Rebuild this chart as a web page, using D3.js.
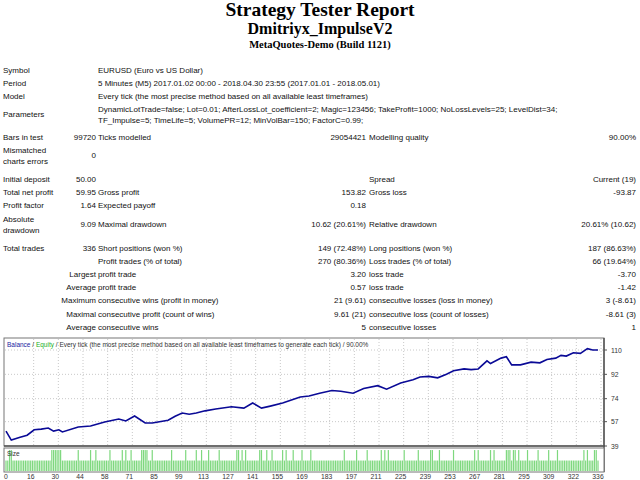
<!DOCTYPE html>
<html>
<head>
<meta charset="utf-8">
<script src="https://cdn.jsdelivr.net/npm/d3@7"></script>
<style>
body { margin: 0; background: #fff; }
text { font-family: "Liberation Sans", Arial, sans-serif; }
</style>
</head>
<body>
<div id="report"></div>
<script>
var width = 640, height = 480;

var titles = ["Strategy Tester Report", "Dmitriyx_ImpulseV2", "MetaQuotes-Demo (Build 1121)"];

// each row: label, value, label, value, label, value
var rows = [
  ["Symbol", "", "EURUSD (Euro vs US Dollar)", "", "", ""],
  ["Period", "", "5 Minutes (M5) 2017.01.02 00:00 - 2018.04.30 23:55 (2017.01.01 - 2018.05.01)", "", "", ""],
  ["Model", "", "Every tick (the most precise method based on all available least timeframes)", "", "", ""],
  ["Parameters", "", "DynamicLotTrade=false; Lot=0.01; AfterLossLot_coefficient=2; Magic=123456; TakeProfit=1000; NoLossLevels=25; LevelDist=34;\nTF_Impulse=5; TimeLife=5; VolumePR=12; MinVolBar=150; FactorC=0.99;", "", "", ""],
  ["Bars in test", "99720", "Ticks modelled", "29054421", "Modelling quality", "90.00%"],
  ["Mismatched\ncharts errors", "0", "", "", "", ""],
  ["Initial deposit", "50.00", "", "", "Spread", "Current (19)"],
  ["Total net profit", "59.95", "Gross profit", "153.82", "Gross loss", "-93.87"],
  ["Profit factor", "1.64", "Expected payoff", "0.18", "", ""],
  ["Absolute\ndrawdown", "9.09", "Maximal drawdown", "10.62 (20.61%)", "Relative drawdown", "20.61% (10.62)"],
  ["Total trades", "336", "Short positions (won %)", "149 (72.48%)", "Long positions (won %)", "187 (86.63%)"],
  ["", "", "Profit trades (% of total)", "270 (80.36%)", "Loss trades (% of total)", "66 (19.64%)"],
  ["", "Largest", "profit trade", "3.20", "loss trade", "-3.70"],
  ["", "Average", "profit trade", "0.57", "loss trade", "-1.42"],
  ["", "Maximum", "consecutive wins (profit in money)", "21 (9.61)", "consecutive losses (loss in money)", "3 (-8.61)"],
  ["", "Maximal", "consecutive profit (count of wins)", "9.61 (21)", "consecutive loss (count of losses)", "-8.61 (3)"],
  ["", "Average", "consecutive wins", "5", "consecutive losses", "1"]
];

// balance curve: [trade number, balance]
var balance = [
  [0, 50], [3, 43.4], [8, 45.5], [12, 47], [16, 51], [20, 51.5], [24, 52.3], [27, 50], [30, 51], [32, 49.4],
  [41, 53], [48, 53.8], [56, 56.8], [64, 59], [68, 57.5], [73, 61.2], [79, 56], [83, 56], [92, 58],
  [96, 61], [100, 63.4], [104, 62.5], [108, 63.4], [113, 65], [119, 66.4], [128, 68], [135, 67], [140, 70.8],
  [145, 67], [150, 68.5], [157, 70.8], [162, 73], [167, 75.3], [172, 76], [178, 78], [185, 80], [190, 79.5],
  [197, 78], [203, 81.5], [211, 83.6], [216, 81], [224, 85.6], [231, 88], [235, 90], [240, 90.5], [245, 89.4],
  [250, 92], [254, 94.6], [260, 96], [264, 95.5], [268, 96], [273, 102], [275, 100], [281, 104], [284, 105],
  [287, 99], [292, 99], [298, 101], [303, 100.5], [307, 103], [312, 104], [315, 106], [318, 105.5], [322, 108],
  [326, 107.5], [330, 111], [333, 110], [336, 110]
];

var yTicks = [39, 57, 74, 92, 110];
var xTickLabels = ["0", "16", "30", "44", "58", "71", "85", "99", "113", "127", "141", "155", "169", "183",
  "197", "211", "225", "239", "253", "267", "281", "295", "309", "322", "336"];

// lot size per trade is 0.01, except these trades at 0.02
var bigLots = [2, 3, 26, 27, 28, 29, 30, 31, 41, 48, 51, 59, 66, 68, 71, 77, 78, 79, 80, 83, 94, 102, 108, 111,
  115, 121, 131, 132, 134, 136, 144, 145, 148, 151, 157, 159, 163, 168, 173, 192, 199, 205, 213, 215, 217,
  226, 234, 241, 242, 246, 254, 266, 268, 275, 277, 284, 285, 286, 288, 289, 291, 296, 302, 308, 313, 328,
  330, 334, 335];

var svg = d3.select("#report").append("svg")
    .attr("width", width)
    .attr("height", height);

// header
var tSizes = [19.5, 16, 10.5], tY = [16, 34, 48];
titles.forEach(function(t, i) {
  svg.append("text").attr("x", 320).attr("y", tY[i])
    .attr("text-anchor", "middle")
    .style("font-family", "'Liberation Serif', 'Times New Roman', serif")
    .style("font-weight", "bold")
    .style("font-size", tSizes[i] + "px")
    .text(t);
});

// table
var rowY = [73, 86, 99, 117, 140, 158, 182, 195, 208, 227, 251, 264, 277, 290, 303, 317, 330];
var colX = [3, 96, 98, 366, 369, 636];
var colAnchor = ["start", "end", "start", "end", "start", "end"];
var table = svg.append("g").style("font-size", "8px").attr("fill", "#111");
rows.forEach(function(r, ri) {
  r.forEach(function(cell, ci) {
    if (!cell) return;
    var lines = cell.split("\n");
    var t = table.append("text")
      .attr("x", colX[ci])
      .attr("y", rowY[ri] - (lines.length - 1) * 5)
      .attr("text-anchor", colAnchor[ci]);
    lines.forEach(function(l, li) {
      t.append("tspan").attr("x", colX[ci]).attr("dy", li ? 11 : 0).text(l);
    });
  });
});

// chart
var x = d3.scaleLinear().domain([0, 336]).range([6, 598]);
var y = d3.scaleLinear().domain([39, 110]).range([446, 350]);
var ySize = d3.scaleLinear().domain([0, 0.021]).range([471, 449]);

var chart = svg.append("g");
chart.append("rect").attr("x", 4).attr("y", 338).attr("width", 600).attr("height", 108)
  .attr("fill", "#fff").attr("stroke", "#777");

var grid = chart.append("g").attr("stroke", "#c8c8c8").attr("stroke-dasharray", "1,2");
xTickLabels.forEach(function(l, i) {
  if (i === 0) return;
  grid.append("line").attr("x1", x(i * 14) + 3).attr("x2", x(i * 14) + 3)
    .attr("y1", 339).attr("y2", 445);
});
yTicks.slice(1).forEach(function(v) {
  grid.append("line").attr("x1", 5).attr("x2", 603).attr("y1", y(v)).attr("y2", y(v));
});

chart.append("path").datum(balance)
  .attr("fill", "none").attr("stroke", "#0a0a96").attr("stroke-width", 1.6)
  .attr("d", d3.line().x(function(d) { return x(d[0]); }).y(function(d) { return y(d[1]); }));

chart.append("line").attr("x1", 4).attr("x2", 605).attr("y1", 446).attr("y2", 446)
  .attr("stroke", "#555").attr("stroke-width", 1.5);
chart.append("line").attr("x1", 604).attr("x2", 604).attr("y1", 338).attr("y2", 472)
  .attr("stroke", "#555").attr("stroke-width", 1.5);

var yAxis = chart.append("g").style("font-size", "6.8px").attr("fill", "#333");
yTicks.forEach(function(v) {
  yAxis.append("line").attr("x1", 604).attr("x2", 607).attr("y1", y(v)).attr("y2", y(v)).attr("stroke", "#555");
  yAxis.append("text").attr("x", 611).attr("y", y(v) + 2.5).text(v);
});

var legend = chart.append("text").attr("x", 7).attr("y", 347).style("font-size", "6.5px").attr("fill", "#333");
legend.append("tspan").attr("fill", "#1a1aa0").text("Balance");
legend.append("tspan").text(" / ");
legend.append("tspan").attr("fill", "#22b022").text("Equity");
legend.append("tspan").text(" / Every tick (the most precise method based on all available least timeframes to generate each tick) / 90.00%");

// size panel
chart.append("rect").attr("x", 4).attr("y", 448).attr("width", 600).attr("height", 24)
  .attr("fill", "#fff").attr("stroke", "#777");
var sizes = d3.range(337).map(function(i) { return bigLots.indexOf(i) >= 0 ? 0.02 : 0.01; });
chart.append("g").selectAll("rect").data(sizes).join("rect")
  .attr("x", function(d, i) { return x(i) - 0.6; })
  .attr("width", 1.2)
  .attr("y", function(d) { return ySize(d); })
  .attr("height", function(d) { return 471 - ySize(d); })
  .attr("fill", "#7ed87e");
chart.append("text").attr("x", 7).attr("y", 456).style("font-size", "6.5px").attr("fill", "#333").text("Size");

var xAxis = chart.append("g").style("font-size", "6.8px").attr("fill", "#333");
xTickLabels.forEach(function(l, i) {
  xAxis.append("text").attr("x", x(i * 14)).attr("y", 479).attr("text-anchor", "middle").text(l);
});
</script>
</body>
</html>
